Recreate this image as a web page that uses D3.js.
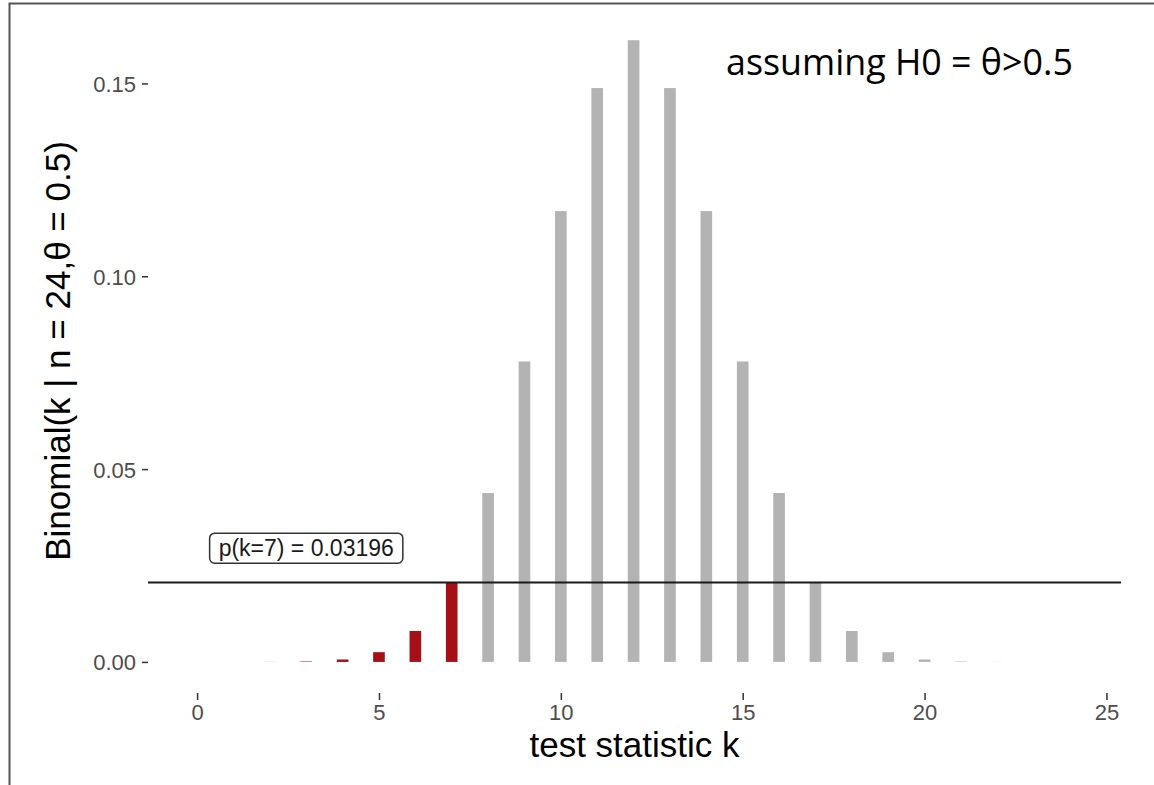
<!DOCTYPE html>
<html>
<head>
<meta charset="utf-8">
<script src="https://cdnjs.cloudflare.com/ajax/libs/d3/7.8.5/d3.min.js"></script>
<style>
	body { margin: 0; background: #fff; }
	svg { display: block; }
</style>
</head>
<body>
<div id="chart"></div>
<script>
// test statistic k and its binomial probability (n = 24, theta = 0.5)
const kValues = [0, 1, 2, 3, 4, 5, 6, 7, 8, 9, 10, 11, 12, 13, 14, 15, 16, 17, 18, 19, 20, 21, 22, 23, 24];
const probs = [0.00000006, 0.0000014, 0.0000164, 0.000121, 0.000633, 0.00253, 0.00802, 0.0206,
	0.0438, 0.0779, 0.1169, 0.1488, 0.1612, 0.1488, 0.1169, 0.0779, 0.0438, 0.0206,
	0.00802, 0.00253, 0.000633, 0.000121, 0.0000164, 0.0000014, 0.00000006];
const criticalK = 7;
const thresholdY = 0.0206;
const labelText = "p(k=7) = 0.03196";
const labelPos = [3, 0.0295];
const xTicks = [0, 5, 10, 15, 20, 25];
const yTicks = [0, 0.05, 0.10, 0.15];

const width = 1154, height = 785;
const svg = d3.select("#chart").append("svg")
	.attr("width", width)
	.attr("height", height);

// panel area
const x = d3.scaleLinear().domain([-1.35, 25.4]).range([148, 1121]);
const y = d3.scaleLinear().domain([-0.00806, 0.1693]).range([693, 9]);
const barW = x(0.32) - x(0);

// frame of the screenshot
svg.append("path")
	.attr("d", `M9.5,${height} L9.5,3.5 L${width},3.5`)
	.attr("fill", "none")
	.attr("stroke", "#555")
	.attr("stroke-width", 2);

const data = kValues.map((k, i) => ({ k: k, p: probs[i] }));

svg.append("g").selectAll("rect")
	.data(data)
	.join("rect")
	.attr("x", d => x(d.k) - barW / 2)
	.attr("width", barW)
	.attr("y", d => y(d.p))
	.attr("height", d => y(0) - y(d.p))
	.attr("fill", d => d.k <= criticalK ? "#a50f15" : "#b3b3b3");

// threshold line
svg.append("line")
	.attr("x1", x.range()[0]).attr("x2", x.range()[1])
	.attr("y1", y(thresholdY)).attr("y2", y(thresholdY))
	.attr("stroke", "#1a1a1a")
	.attr("stroke-width", 2);

// axes
const xAxis = svg.append("g")
	.attr("transform", `translate(0,${y.range()[0]})`)
	.call(d3.axisBottom(x).tickValues(xTicks).tickSize(7).tickPadding(4).tickFormat(d3.format("d")));
const yAxis = svg.append("g")
	.attr("transform", `translate(${x.range()[0]},0)`)
	.call(d3.axisLeft(y).tickValues(yTicks).tickSize(6).tickPadding(6).tickFormat(d3.format(".2f")));

[xAxis, yAxis].forEach(a => {
	a.select(".domain").remove();
	a.selectAll(".tick line").attr("stroke", "#333").attr("stroke-width", 1.5);
	a.selectAll(".tick text")
		.attr("fill", "#4d4d4d")
		.style("font-family", "'Liberation Sans', Arial, sans-serif")
		.style("font-size", "22px");
});
yAxis.selectAll(".tick text").attr("dy", "0.36em");

// label box
const lab = svg.append("g")
	.attr("transform", `translate(${x(labelPos[0])},${y(labelPos[1])})`);
const labTxt = lab.append("text")
	.attr("text-anchor", "middle")
	.attr("dy", "0.36em")
	.style("font-family", "'Liberation Sans', Arial, sans-serif")
	.style("font-size", "23px")
	.attr("fill", "#1a1a1a")
	.text(labelText);
const bb = labTxt.node().getBBox();
lab.insert("rect", "text")
	.attr("x", bb.x - 9).attr("y", -15)
	.attr("width", bb.width + 18).attr("height", 30)
	.attr("rx", 5)
	.attr("fill", "#fff")
	.attr("stroke", "#333")
	.attr("stroke-width", 1.5);

// axis titles
svg.append("text")
	.attr("x", (x.range()[0] + x.range()[1]) / 2)
	.attr("y", 757)
	.attr("text-anchor", "middle")
	.style("font-family", "'Liberation Sans', Arial, sans-serif")
	.style("font-size", "35px")
	.attr("fill", "#000")
	.text("test statistic k");

svg.append("text")
	.attr("transform", `translate(70,${(y.range()[0] + y.range()[1]) / 2}) rotate(-90)`)
	.attr("text-anchor", "middle")
	.style("font-family", "'Liberation Sans', Arial, sans-serif")
	.style("font-size", "35px")
	.attr("fill", "#000")
	.text("Binomial(k | n = 24,θ = 0.5)");

// annotation, sized to span the same width as in the picture
const note = svg.append("text")
	.attr("x", 726)
	.attr("y", 75)
	.style("font-family", "'Open Sans', sans-serif")
	.style("font-size", "30px")
	.attr("fill", "#000")
	.text("assuming H0 = θ>0.5");
const noteW = note.node().getComputedTextLength();
note.style("font-size", (30 * 347 / noteW) + "px");
</script>
</body>
</html>
